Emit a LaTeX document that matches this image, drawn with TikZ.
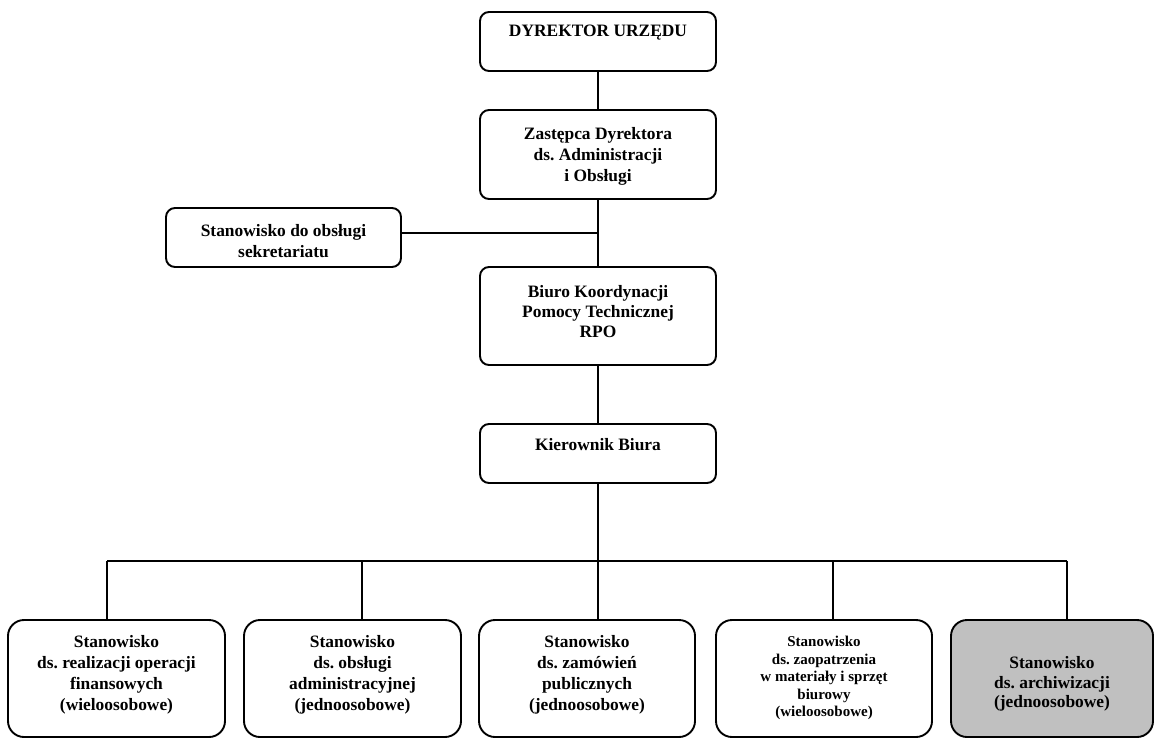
\documentclass[tikz,border=0pt]{standalone}
\usepackage{fontspec}
\setmainfont{Liberation Serif}
\definecolor{boxgray}{RGB}{192,192,192}
\begin{document}
\frenchspacing
\begin{tikzpicture}[x=1pt,y=-1pt,
  box/.style={draw, line width=1.9pt, rounded corners=9pt, minimum width=236pt, inner sep=0pt},
  lowbox/.style={draw, line width=1.9pt, rounded corners=16pt, minimum height=117pt, inner sep=0pt},
  txt/.style={align=center, font=\bfseries\fontsize{17.4}{21}\selectfont, inner sep=0pt},
  smalltxt/.style={align=center, font=\bfseries\fontsize{15}{17.5}\selectfont, inner sep=0pt},
  conn/.style={line width=1.8pt}]
\useasboundingbox (0,0) rectangle (1156,740);

% upper column
\node[box, minimum height=59pt] (dyr) at (598,41.5) {};
\node[txt] (dyrt) at (598,33) {DYREKTOR URZĘDU};

\node[box, minimum height=89pt] (zast) at (598,154.5) {};
\node[txt] (zastt) at (598,156) {Zastępca Dyrektora\\ds. Administracji\\i Obsługi};

\node[box, minimum width=235pt, minimum height=59pt] (sek) at (283.5,237.5) {};
\node[txt] (sekt) at (283.5,241) {Stanowisko do obsługi\\sekretariatu};

\node[box, minimum height=98pt] (biuro) at (598,316) {};
\node[txt, font=\bfseries\fontsize{17.4}{20}\selectfont] (biurot) at (598,312) {Biuro Koordynacji\\Pomocy Technicznej\\RPO};

\node[box, minimum height=59pt] (kier) at (598,453.5) {};
\node[txt] (kiert) at (598,445) {Kierownik Biura};

% lower row
\node[lowbox, minimum width=217pt] (b1) at (116.5,678.5) {};
\node[txt] (b1t) at (116.5,675) {Stanowisko\\ds. realizacji operacji\\finansowych\\(wieloosobowe)};

\node[lowbox, minimum width=217pt] (b2) at (352.5,678.5) {};
\node[txt] (b2t) at (352.5,675) {Stanowisko\\ds. obsługi\\administracyjnej\\(jednoosobowe)};

\node[lowbox, minimum width=216pt] (b3) at (587,678.5) {};
\node[txt] (b3t) at (587,675) {Stanowisko\\ds. zamówień\\publicznych\\(jednoosobowe)};

\node[lowbox, minimum width=216pt] (b4) at (824,678.5) {};
\node[smalltxt] (b4t) at (824,678) {Stanowisko\\ds. zaopatrzenia\\w materiały i sprzęt\\biurowy\\(wieloosobowe)};

\node[lowbox, minimum width=202pt, fill=boxgray] (b5) at (1052,678.5) {};
\node[txt, font=\bfseries\fontsize{17.4}{19.5}\selectfont] (b5t) at (1052,684) {Stanowisko\\ds. archiwizacji\\(jednoosobowe)};

% connectors
\draw[conn] (dyr) -- (zast);
\draw[conn] (zast) -- (biuro);
\coordinate (sj) at (598,233);
\draw[conn] (sj -| sek.east) -- (sj);
\draw[conn] (biuro) -- (kier);
\draw[conn] (kier.south) -- (kier.south |- b3.north);

\coordinate (busL) at (107,561);
\coordinate (bus2) at (362,561);
\coordinate (bus4) at (833,561);
\coordinate (busR) at (1067,561);
\draw[conn] (busL) -- (busR);
\draw[conn] (busL) -- (busL |- b1.north);
\draw[conn] (bus2) -- (bus2 |- b2.north);
\draw[conn] (bus4) -- (bus4 |- b4.north);
\draw[conn] (busR) -- (busR |- b5.north);
\end{tikzpicture}
\end{document}
